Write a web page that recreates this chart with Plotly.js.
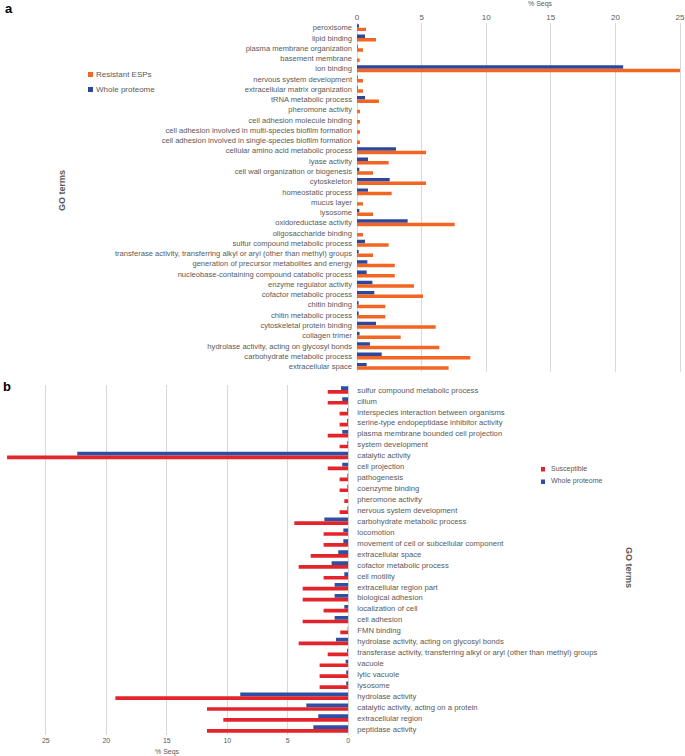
<!DOCTYPE html>
<html>
<head>
<meta charset="utf-8">
<script src="https://cdn.plot.ly/plotly-3.0.1.min.js"></script>
<style>
html,body{margin:0;padding:0;background:#fff;}
#chart{width:685px;height:756px;}
</style>
</head>
<body>
<div id="chart"></div>
<script>
// ---------- Panel a data ----------
var catsA = ["peroxisome","lipid binding","plasma membrane organization","basement membrane","ion binding",
"nervous system development","extracellular matrix organization","tRNA metabolic process","pheromone activity",
"cell adhesion molecule binding","cell adhesion involved in multi-species biofilm formation",
"cell adhesion involved in single-species biofilm formation","cellular amino acid metabolic process","lyase activity",
"cell wall organization or biogenesis","cytoskeleton","homeostatic process","mucus layer","lysosome",
"oxidoreductase activity","oligosaccharide binding","sulfur compound metabolic process",
"transferase activity, transferring alkyl or aryl (other than methyl) groups",
"generation of precursor metabolites and energy","nucleobase-containing compound catabolic process",
"enzyme regulator activity","cofactor metabolic process","chitin binding","chitin metabolic process",
"cytoskeletal protein binding","collagen trimer","hydrolase activity, acting on glycosyl bonds",
"carbohydrate metabolic process","extracellular space"];
var resistantA = [0.7,1.47,0.46,0.2,25,0.46,0.46,1.7,0.23,0.23,0.23,0.23,5.34,2.45,1.24,5.34,2.68,0.46,1.24,7.56,0.46,2.45,1.24,2.92,2.92,4.41,5.11,2.19,2.19,6.09,3.38,6.37,8.77,7.09];
var wholeA = [0.15,0.62,0.05,0,20.6,0.05,0.05,0.62,0,0,0,0,3.02,0.85,0.18,2.53,0.85,0,0.18,3.92,0,0.62,0.13,0.8,0.75,1.19,1.34,0.13,0.13,1.47,0.2,1.0,1.91,0.75];

// ---------- Panel b data ----------
var catsB = ["sulfur compound metabolic process","cilium","interspecies interaction between organisms",
"serine-type endopeptidase inhibitor activity","plasma membrane bounded cell projection","system development",
"catalytic activity","cell projection","pathogenesis","coenzyme binding","pheromone activity",
"nervous system development","carbohydrate metabolic process","locomotion",
"movement of cell or subcellular component","extracellular space","cofactor metabolic process","cell motility",
"extracellular region part","biological adhesion","localization of cell","cell adhesion","FMN binding",
"hydrolase activity, acting on glycosyl bonds",
"transferase activity, transferring alkyl or aryl (other than methyl) groups","vacuole","lytic vacuole","lysosome",
"hydrolase activity","catalytic activity, acting on a protein","extracellular region","peptidase activity"];
var susceptibleB = [1.7,1.7,0.72,0.72,1.7,0.72,28.2,1.7,0.72,0.72,0.33,0.72,4.46,2.04,2.04,3.11,4.1,2.04,3.77,3.77,2.04,3.77,0.66,4.1,1.7,2.37,2.37,2.37,19.25,11.68,10.33,11.68];
var wholeB = [0.6,0.5,0.1,0.1,0.5,0.08,22.4,0.5,0.08,0.08,0,0.08,1.98,0.41,0.41,0.83,1.38,0.33,1.13,1.13,0.33,1.13,0.05,1.02,0.1,0.22,0.17,0.17,8.93,3.47,2.48,2.89];

var tickVals = [0,5,10,15,20,25];
var tickText = ["0","5","10","15","20","25"];

var W = 685, H = 756;
function px(x){ return x / W; }
function py(y){ return 1 - y / H; }

var FONT = "Liberation Sans Narrow, Arial Narrow, Liberation Sans, sans-serif";
var GREY = "#595959";
var ORANGE = "#F26522", BLUEA = "#2E469C", RED = "#E3242B", BLUEB = "#2F4FA6";

var traces = [
  {type:"bar", orientation:"h", name:"Whole proteome", y:catsA, x:wholeA, xaxis:"x", yaxis:"y",
   marker:{color:BLUEA}, showlegend:false, hoverinfo:"x+y"},
  {type:"bar", orientation:"h", name:"Resistant ESPs", y:catsA, x:resistantA, xaxis:"x", yaxis:"y",
   marker:{color:ORANGE}, showlegend:false, hoverinfo:"x+y"},
  {type:"bar", orientation:"h", name:"Whole proteome", y:catsB, x:wholeB, xaxis:"x2", yaxis:"y2",
   marker:{color:BLUEB}, showlegend:false, hoverinfo:"x+y"},
  {type:"bar", orientation:"h", name:"Susceptible", y:catsB, x:susceptibleB, xaxis:"x2", yaxis:"y2",
   marker:{color:RED}, showlegend:false, hoverinfo:"x+y"}
];

var layout = {
  width: W, height: H,
  margin:{l:0,r:0,t:0,b:0},
  paper_bgcolor:"#fff", plot_bgcolor:"rgba(0,0,0,0)",
  barmode:"group", bargap:0.32, bargroupgap:0,
  font:{family:FONT, color:GREY, size:8},
  xaxis:{domain:[px(357), px(683.9)], range:[0,25.3], side:"top", anchor:"y",
    tickmode:"array", tickvals:tickVals, ticktext:tickText, ticks:"", ticklabeloverflow:"allow",
    showgrid:true, gridcolor:"#D9D9D9", gridwidth:1, zeroline:true, zerolinecolor:"#D9D9D9", zerolinewidth:1,
    showline:false, tickfont:{size:8, color:GREY}, automargin:false, fixedrange:true},
  yaxis:{domain:[py(371.5), py(22.5)], anchor:"x", type:"category", autorange:"reversed",
    ticks:"", showgrid:false, zeroline:false, showline:false, ticklabelstandoff:4,
    tickfont:{size:7.6, color:GREY}, automargin:false, fixedrange:true},
  xaxis2:{domain:[px(3.45), px(348.3)], range:[28.5,0], side:"bottom", anchor:"y2",
    tickmode:"array", tickvals:tickVals, ticktext:tickText, ticks:"", ticklabeloverflow:"allow",
    showgrid:true, gridcolor:"#D9D9D9", gridwidth:1, zeroline:true, zerolinecolor:"#D9D9D9", zerolinewidth:1,
    showline:false, tickfont:{size:7, color:GREY}, automargin:false, fixedrange:true},
  yaxis2:{domain:[py(734.5), py(384.5)], anchor:"x2", type:"category", autorange:"reversed", side:"right",
    ticks:"", showgrid:false, zeroline:false, showline:false, ticklabelstandoff:8,
    tickfont:{size:7.7, color:GREY}, automargin:false, fixedrange:true},
  shapes:[
    {type:"rect", xref:"paper", yref:"paper", x0:px(88), x1:px(93), y0:py(77), y1:py(72), fillcolor:ORANGE, line:{width:0}},
    {type:"rect", xref:"paper", yref:"paper", x0:px(88), x1:px(93), y0:py(92), y1:py(87), fillcolor:BLUEA, line:{width:0}},
    {type:"rect", xref:"paper", yref:"paper", x0:px(541), x1:px(545), y0:py(471.5), y1:py(467), fillcolor:RED, line:{width:0}},
    {type:"rect", xref:"paper", yref:"paper", x0:px(541), x1:px(545), y0:py(484), y1:py(479.5), fillcolor:BLUEB, line:{width:0}}
  ],
  annotations:[
    {text:"<b>a</b>", xref:"paper", yref:"paper", x:px(3), y:py(9), xanchor:"left", yanchor:"middle", showarrow:false, font:{family:"Liberation Sans, Arial, sans-serif", size:13, color:"#000"}},
    {text:"<b>b</b>", xref:"paper", yref:"paper", x:px(1), y:py(387), xanchor:"left", yanchor:"middle", showarrow:false, font:{family:"Liberation Sans, Arial, sans-serif", size:13, color:"#000"}},
    {text:"% Seqs", xref:"paper", yref:"paper", x:px(540), y:py(4), xanchor:"center", yanchor:"middle", showarrow:false, font:{size:7, color:GREY}},
    {text:"% Seqs", xref:"paper", yref:"paper", x:px(167), y:py(752), xanchor:"center", yanchor:"middle", showarrow:false, font:{size:7, color:GREY}},
    {text:"<b>GO terms</b>", xref:"paper", yref:"paper", x:px(62), y:py(191), xanchor:"center", yanchor:"middle", textangle:-90, showarrow:false, font:{size:9, color:GREY}},
    {text:"<b>GO terms</b>", xref:"paper", yref:"paper", x:px(629), y:py(567), xanchor:"center", yanchor:"middle", textangle:90, showarrow:false, font:{size:9, color:GREY}},
    {text:"Resistant ESPs", xref:"paper", yref:"paper", x:px(94), y:py(74.5), xanchor:"left", yanchor:"middle", showarrow:false, font:{size:8, color:GREY}},
    {text:"Whole proteome", xref:"paper", yref:"paper", x:px(94), y:py(89.5), xanchor:"left", yanchor:"middle", showarrow:false, font:{size:8, color:GREY}},
    {text:"Susceptible", xref:"paper", yref:"paper", x:px(549), y:py(469), xanchor:"left", yanchor:"middle", showarrow:false, font:{size:7, color:GREY}},
    {text:"Whole proteome", xref:"paper", yref:"paper", x:px(549), y:py(481.5), xanchor:"left", yanchor:"middle", showarrow:false, font:{size:7, color:GREY}}
  ]
};

Plotly.newPlot("chart", traces, layout, {displayModeBar:false, staticPlot:true});
</script>
</body>
</html>
